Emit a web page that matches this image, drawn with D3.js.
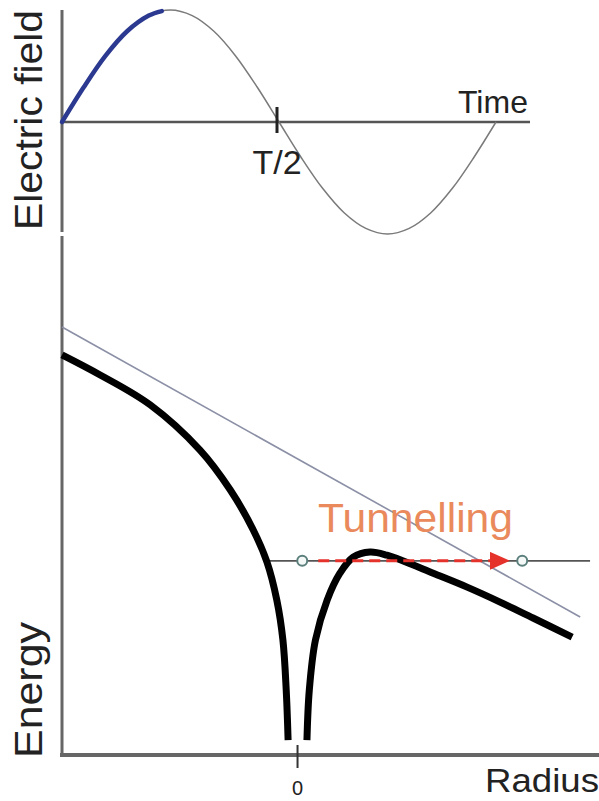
<!DOCTYPE html>
<html>
<head>
<meta charset="utf-8">
<script src="https://cdn.jsdelivr.net/npm/d3@7"></script>
<style>
  body { margin: 0; background: #fff; }
  svg text { font-family: "Liberation Sans", Arial, sans-serif; }
</style>
</head>
<body>
<div id="chart"></div>
<script>

// Top panel: electric field over one period (time in units of T)
var fieldTime = [0, 0.05, 0.1, 0.15, 0.2, 0.25, 0.3, 0.35, 0.4, 0.45, 0.5,
	0.55, 0.6, 0.65, 0.7, 0.75, 0.8, 0.85, 0.9, 0.95, 1];
var fieldValue = [0, 0.31, 0.59, 0.81, 0.95, 1, 0.95, 0.81, 0.59, 0.31, 0,
	-0.31, -0.59, -0.81, -0.95, -1, -0.95, -0.81, -0.59, -0.31, 0];
// highlighted rising part of the field
var highlightEnd = 0.23;
var timeTicks = [{t: 0.5, label: "T/2"}];

// Bottom panel: potential seen by the electron (radius, energy)
var leftRadius = [-5.0, -4.19, -3.13, -2.07, -1.43, -0.94, -0.65, -0.44, -0.31, -0.24, -0.20];
var leftEnergy = [7.77, 7.38, 6.80, 5.92, 5.15, 4.37, 3.75, 3.01, 2.23, 1.26, 0.29];
var rightRadius = [0.20, 0.25, 0.38, 0.63, 0.90, 1.18, 1.54, 1.90, 2.18, 2.88, 3.60, 4.30, 5.00, 5.83];
var rightEnergy = [0.29, 1.26, 2.23, 3.01, 3.53, 3.84, 3.94, 3.88, 3.79, 3.53, 3.26, 2.97, 2.66, 2.29];
// field-only potential (straight line)
var fieldRadius = [-5.0, 6.0];
var fieldEnergy = [8.31, 2.68];
// bound state level and tunnelling path
var levelEnergy = 3.77;
var levelRange = [-0.63, 6.21];
var turningPoints = [0.10, 4.77];
var tunnelRange = [0.44, 4.51];
var radiusTicks = [0];

var width = 599, height = 801;

var svg = d3.select("#chart").append("svg")
	.attr("width", width)
	.attr("height", height);

// Scales
var xTime = d3.scaleLinear().domain([0, 1]).range([62, 496]);
var yField = d3.scaleLinear().domain([-1, 1]).range([234, 10]);
var xRad = d3.scaleLinear().domain([-5, 6.4]).range([62, 599]);
var yEn = d3.scaleLinear().domain([0, 10]).range([755, 240]);

var fieldData = fieldTime.map(function(t, i) { return {t: t, v: fieldValue[i]}; });

var fieldLine = d3.line()
	.x(function(d) { return xTime(d.t); })
	.y(function(d) { return yField(d.v); })
	.curve(d3.curveCatmullRom);

// ---- top panel ----
svg.append("line")
	.attr("x1", 62).attr("x2", 62)
	.attr("y1", 10).attr("y2", 232)
	.attr("stroke", "#666").attr("stroke-width", 3);

svg.append("line")
	.attr("x1", 62).attr("x2", 530)
	.attr("y1", yField(0)).attr("y2", yField(0))
	.attr("stroke", "#555").attr("stroke-width", 2.5);

svg.append("path")
	.datum(fieldData)
	.attr("d", fieldLine)
	.attr("fill", "none")
	.attr("stroke", "#7a7a7a")
	.attr("stroke-width", 1.5);

// blue highlighted section, sampled up to highlightEnd
var highlightData = fieldData.filter(function(d) { return d.t <= highlightEnd; });
var lastIdx = highlightData.length;
var a = fieldData[lastIdx - 1], b = fieldData[lastIdx];
var f = (highlightEnd - a.t) / (b.t - a.t);
highlightData.push({t: highlightEnd, v: a.v + f * (b.v - a.v) + 0.01});

svg.append("path")
	.datum(highlightData)
	.attr("d", fieldLine)
	.attr("fill", "none")
	.attr("stroke", "#2b3990")
	.attr("stroke-width", 4.5)
	.attr("stroke-linecap", "round");

timeTicks.forEach(function(d) {
	svg.append("line")
		.attr("x1", xTime(d.t) - 2).attr("x2", xTime(d.t) - 2)
		.attr("y1", 107).attr("y2", 133)
		.attr("stroke", "#222").attr("stroke-width", 3);
	svg.append("text")
		.attr("x", xTime(d.t) - 2)
		.attr("y", 174)
		.attr("text-anchor", "middle")
		.style("font-size", "34px")
		.attr("fill", "#222")
		.text(d.label);
});

svg.append("text")
	.attr("x", 458).attr("y", 113)
	.style("font-size", "32px")
	.attr("fill", "#222")
	.text("Time");

svg.append("text")
	.attr("transform", "translate(42,230) rotate(-90)")
	.attr("textLength", 220)
	.attr("lengthAdjust", "spacingAndGlyphs")
	.style("font-size", "38px")
	.attr("fill", "#222")
	.text("Electric field");

// ---- bottom panel ----
svg.append("line")
	.attr("x1", 62).attr("x2", 62)
	.attr("y1", 236).attr("y2", 757)
	.attr("stroke", "#666").attr("stroke-width", 3);

svg.append("line")
	.attr("x1", 60).attr("x2", 599)
	.attr("y1", 755).attr("y2", 755)
	.attr("stroke", "#666").attr("stroke-width", 4);

radiusTicks.forEach(function(r) {
	svg.append("line")
		.attr("x1", xRad(r)).attr("x2", xRad(r))
		.attr("y1", 745).attr("y2", 768)
		.attr("stroke", "#333").attr("stroke-width", 2);
	svg.append("text")
		.attr("x", xRad(r)).attr("y", 795)
		.attr("text-anchor", "middle")
		.style("font-size", "20px")
		.attr("fill", "#222")
		.text(r);
});

svg.append("text")
	.attr("x", 599).attr("y", 792)
	.attr("text-anchor", "end")
	.attr("textLength", 114)
	.attr("lengthAdjust", "spacingAndGlyphs")
	.style("font-size", "34px")
	.attr("fill", "#222")
	.text("Radius");

svg.append("text")
	.attr("transform", "translate(42,758) rotate(-90)")
	.attr("textLength", 136)
	.attr("lengthAdjust", "spacingAndGlyphs")
	.style("font-size", "38px")
	.attr("fill", "#222")
	.text("Energy");

var potLine = d3.line()
	.x(function(d) { return xRad(d[0]); })
	.y(function(d) { return yEn(d[1]); })
	.curve(d3.curveCatmullRom);

// field-only potential
svg.append("path")
	.datum(fieldRadius.map(function(r, i) { return [r, fieldEnergy[i]]; }))
	.attr("d", potLine)
	.attr("fill", "none")
	.attr("stroke", "#8c90a6")
	.attr("stroke-width", 1.6);

// bound level
svg.append("line")
	.attr("x1", xRad(levelRange[0])).attr("x2", xRad(levelRange[1]))
	.attr("y1", yEn(levelEnergy)).attr("y2", yEn(levelEnergy))
	.attr("stroke", "#555").attr("stroke-width", 1.6);

// total potential, two branches
[[leftRadius, leftEnergy], [rightRadius, rightEnergy]].forEach(function(branch) {
	svg.append("path")
		.datum(branch[0].map(function(r, i) { return [r, branch[1][i]]; }))
		.attr("d", potLine)
		.attr("fill", "none")
		.attr("stroke", "#000")
		.attr("stroke-width", 7);
});

// tunnelling arrow
svg.append("defs").append("marker")
	.attr("id", "arrow")
	.attr("markerUnits", "userSpaceOnUse")
	.attr("viewBox", "0 0 20 18")
	.attr("refX", 0).attr("refY", 9)
	.attr("markerWidth", 20).attr("markerHeight", 18)
	.attr("orient", "auto")
	.append("path")
	.attr("d", "M0,0L20,9L0,18Z")
	.attr("fill", "#e5322b");

svg.append("line")
	.attr("x1", xRad(tunnelRange[0])).attr("x2", xRad(tunnelRange[1]) - 20)
	.attr("y1", yEn(levelEnergy)).attr("y2", yEn(levelEnergy))
	.attr("stroke", "#e5322b")
	.attr("stroke-width", 3)
	.attr("stroke-dasharray", "11,6")
	.attr("marker-end", "url(#arrow)");

svg.selectAll(".turn")
	.data(turningPoints)
	.enter().append("circle")
	.attr("class", "turn")
	.attr("cx", function(d) { return xRad(d); })
	.attr("cy", yEn(levelEnergy))
	.attr("r", 5)
	.attr("fill", "#f4f8f6")
	.attr("stroke", "#5b7f7c")
	.attr("stroke-width", 2);

svg.append("text")
	.attr("x", 318).attr("y", 532)
	.attr("textLength", 195)
	.attr("lengthAdjust", "spacingAndGlyphs")
	.style("font-size", "40px")
	.attr("fill", "#ea8a5c")
	.text("Tunnelling");

</script>
</body>
</html>
